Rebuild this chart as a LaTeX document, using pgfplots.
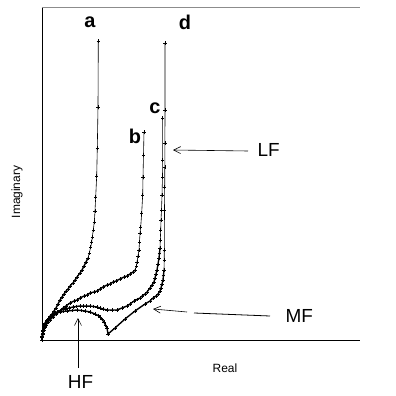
\documentclass[border=0pt]{standalone}
\usepackage{pgfplots}
\pgfplotsset{compat=1.18}
\usepackage{fontspec}
\setmainfont{Liberation Sans}
\usetikzlibrary{arrows.meta}
\pgfplotsset{nyq/.style={black, line width=0.6pt, mark=+, mark size=1.7pt, mark options={line width=0.5pt, solid}},
  nyqthick/.style={black, line width=1.4pt, mark=+, mark size=2pt, mark options={line width=0.7pt, solid}}}
\begin{document}
\begin{tikzpicture}
\begin{axis}[
  at={(0,0)}, anchor=south west,
  scale only axis, width=318bp, height=333bp,
  xmin=0, xmax=318, ymin=0, ymax=333,
  xtick=\empty, ytick=\empty,
  axis x line=bottom, axis y line=left,
  axis line style={-, line width=0.7pt},
  clip=false,
]
% curve a
\addplot[nyqthick] coordinates {(0,0)(0.3,3)(0.7,6)(1,9)(2,12)(3,15)(4,17)(5.5,20)(7,22)(8,24)(10,26)(12,29)(14,32)(16,36)(18,40)(20,43)(22,46)(24,49)(26,51)(28,54)(31,57)(33,60)(35,63)(38,67)(40,70)(42,74)(44,78)(46,82)};
\addplot[nyq] coordinates {(46,82)(47.3,87)(48.7,93)(49.7,98)(50.3,103)(51.3,110)(52.3,118)(53,129)(53.7,143)(54.7,164)(55.3,192)(56,233)(56.3,299)};
% curve b
\addplot[nyqthick] coordinates {(0,0)(0.5,4)(1,7)(2,10)(3,13)(4,15)(6,18)(8,20)(11,23)(14,26)(18,29)(21,32)(24,34)(28,37)(32,39)(35,40)(38,42)(42,44)(45,45)(48,47)(52,48)(55,49)(58,51)(61,53)(65,55)(68,56)(71,58)(74,59)(78,61)(82,63)(85,64)(88,66)(91,68)(93,70)};
\addplot[nyq] coordinates {(93,70)(94.5,74)(95,78)(96,84)(97,90)(97.5,98)(98,107)(98.7,113)(99.7,127)(100.7,145)(101,163)(101.5,185)(102,208)};
% curve c
\addplot[nyqthick] coordinates {(0,0)(0.3,3)(0.7,6)(1,9)(2,13)(3,16)(4.5,19)(6,21)(8,23)(10,25)(12,26.5)(15,28)(18,29.5)(23,31)(27,32)(31,33)(34,33.5)(38,34)(41,34)(44,34)(48,34)(51,33.5)(55,33)(58,32)(61,31)(65,30)(70,30)(75,30)(80,32)(85,34)(88,36)(92,39)(95,40.5)(98,42)(100,44)(103,46)(105,48)(108,52)(110,55)(112,58)(113,62)(114,66)(115,70)(116,76)(117,82)(117.5,87)(118,92)};
\addplot[nyq] coordinates {(118,92)(118.3,100)(118.7,110)(119,120)(119.5,130)(120,145)(120.5,163)(120.7,180)(120.7,222)};
% curve d
\addplot[nyqthick] coordinates {(0,0)(0.3,4)(1,10)(2,14)(3,17)(5,20)(7,22)(9,24)(11,25)(14,26.5)(18,28)(21,28.5)(25,29)(30,29.5)(35,30)(39,29.5)(43,29)(48,28)(53,26)(56,24.5)(58,23)(60,20.5)(62,18)(63.5,15)(65,12)(66,6)(73,12)(83,21)(93,29)(103,36)(108,39)(111,42)(114,44)(116,46)(118,49)(119,52)(120,56)(121,60)(121.5,65)(122,70)};
\addplot[nyq] coordinates {(122,70)(122.2,80)(122.3,90)(122.5,130)(122.7,153)(122.8,173)(122.9,197)(123,230)(123,297)};

% top frame line (faint)
\draw[black!45, line width=0.6pt] (axis cs:0,333) -- (axis cs:318,333);

% labels
\node[font=\fontsize{20}{24}\selectfont\bfseries] at (axis cs:48,318) {a};
\node[font=\fontsize{20}{24}\selectfont\bfseries] at (axis cs:93,204) {b};
\node[font=\fontsize{20}{24}\selectfont\bfseries] at (axis cs:113,232) {c};
\node[font=\fontsize{20}{24}\selectfont\bfseries] at (axis cs:143,318) {d};

\draw[line width=0.6pt, -{Straight Barb[length=7pt,width=7pt]}] (axis cs:206,189) -- (axis cs:131,190);
\node[anchor=west, font=\fontsize{19}{22}\selectfont] at (axis cs:212,190) {LF};
\draw[line width=0.6pt, -{Straight Barb[length=7pt,width=7pt]}] (axis cs:145,28) -- (axis cs:111,31);
\draw[line width=0.8pt] (axis cs:152,27) -- (axis cs:228,24);
\node[anchor=west, font=\fontsize{19}{22}\selectfont] at (axis cs:240,24) {MF};
\draw[line width=0.5pt, -{Straight Barb[length=7pt,width=7pt]}] (axis cs:36,-28) -- (axis cs:36,22);
\node[font=\fontsize{19}{22}\selectfont] at (axis cs:38.5,-41.5) {HF};

\node[font=\fontsize{12}{14}\selectfont] at (axis cs:183,-28) {Real};
\node[rotate=90, font=\fontsize{12}{14}\selectfont] at (axis cs:-25,148) {Imaginary};
\end{axis}
\pgfresetboundingbox
\useasboundingbox (-42bp,-56bp) rectangle (354bp,340bp);
\end{tikzpicture}
\end{document}
